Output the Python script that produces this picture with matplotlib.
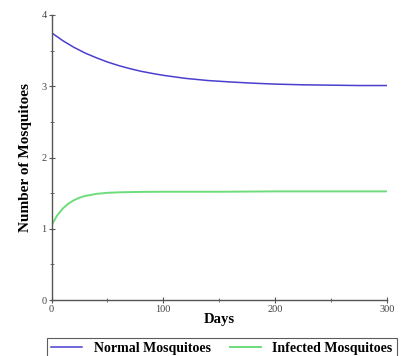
import matplotlib
matplotlib.use('Agg')
import matplotlib.pyplot as plt
from matplotlib.ticker import MultipleLocator

# values
days = [0, 10, 20, 30, 40, 50, 60, 70, 80, 90, 100, 120, 140, 160, 180, 200, 225, 250, 275, 300]
normal = [3.75, 3.64, 3.546, 3.466, 3.40, 3.34, 3.29, 3.247, 3.21, 3.18, 3.153,
          3.11, 3.08, 3.06, 3.043, 3.03, 3.02, 3.015, 3.01, 3.01]

days_inf = [0, 5, 10, 15, 20, 25, 30, 40, 50, 60, 80, 100, 150, 200, 250, 300]
infected = [1.05, 1.187, 1.284, 1.353, 1.401, 1.436, 1.461, 1.49, 1.505, 1.512,
            1.518, 1.52, 1.52, 1.525, 1.525, 1.525]

plt.rcParams['font.family'] = ['Liberation Serif', 'DejaVu Serif']

fig = plt.figure(figsize=(4.09, 3.56), dpi=100)
ax = fig.add_axes([0.126, 0.157, 0.82, 0.801])

ax.plot(days, normal, color='#4a3fcf', lw=1.1, label='Normal Mosquitoes')
ax.plot(days_inf, infected, color='#6ddc7a', lw=1.4, label='Infected Mosquitoes')

ax.set_xlim(0, 300)
ax.set_ylim(0, 4)
for s in ('top', 'right'):
    ax.spines[s].set_visible(False)
for s in ('left', 'bottom'):
    ax.spines[s].set_color('#555555')
    ax.spines[s].set_linewidth(1.0)

ax.xaxis.set_major_locator(MultipleLocator(100))
ax.xaxis.set_minor_locator(MultipleLocator(50))
ax.yaxis.set_major_locator(MultipleLocator(1))
ax.yaxis.set_minor_locator(MultipleLocator(0.5))
ax.tick_params(which='major', direction='inout', length=4, width=0.8, color='#555555',
               labelsize=7.5, labelcolor='#444444', pad=1.5)
ax.tick_params(which='minor', direction='inout', length=2.5, width=0.6, color='#555555')

ax.set_xlabel('Days', fontsize=10.5, fontweight='bold', labelpad=-1)
ax.set_ylabel('Number of Mosquitoes', fontsize=11, fontweight='bold', labelpad=7)

leg = fig.legend(loc='upper left', bbox_to_anchor=(47 / 409, 1 - 338 / 356),
                 ncol=2, fancybox=False, edgecolor='#333333', prop={'weight': 'bold', 'size': 10},
                 handlelength=2.2, handletextpad=0.85, borderpad=0.3, columnspacing=1.4,
                 borderaxespad=0)
leg.get_frame().set_linewidth(0.8)

fig.savefig('out.png', dpi=100)
